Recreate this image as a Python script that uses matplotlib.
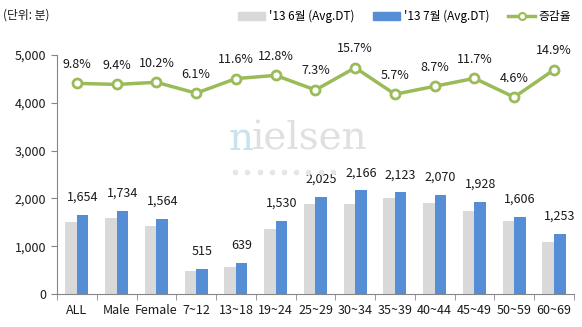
import numpy as np
import matplotlib.pyplot as plt
from matplotlib.lines import Line2D
from matplotlib.patches import Patch

plt.rcParams['font.family'] = ['Noto Sans CJK KR', 'DejaVu Sans']

##Data##
categories = ['ALL', 'Male', 'Female', '7~12', '13~18', '19~24', '25~29',
              '30~34', '35~39', '40~44', '45~49', '50~59', '60~69']
jun_dt = [1506, 1585, 1419, 485, 573, 1356, 1887, 1872, 2009, 1904, 1726, 1535, 1091]
jul_dt = [1654, 1734, 1564, 515, 639, 1530, 2025, 2166, 2123, 2070, 1928, 1606, 1253]
growth = [9.8, 9.4, 10.2, 6.1, 11.6, 12.8, 7.3, 15.7, 5.7, 8.7, 11.7, 4.6, 14.9]
yticks = [0, 1000, 2000, 3000, 4000, 5000]

grey = '#D9D9D9'
blue = '#558ED5'
green = '#9BBB59'
axis_col = '#868686'

fig = plt.figure(figsize=(5.82, 3.27), dpi=100)
ax = fig.add_axes([0.098, 0.101, 0.888, 0.731])

x = np.arange(len(categories))
w = 0.29
ax.bar(x - w / 2, jun_dt, w, color=grey, zorder=2)
ax.bar(x + w / 2, jul_dt, w, color=blue, zorder=2)
for xi, v in zip(x, jul_dt):
    ax.annotate(f'{v:,}', (xi + w / 2, v), xytext=(0, 8), textcoords='offset points',
                ha='center', va='bottom', fontsize=9, color='#1a1a1a')

##Axes styling##
ax.set_xlim(-0.5, len(categories) - 0.5)
ax.set_ylim(0, 5000)
ax.set_yticks(yticks)
ax.set_yticklabels([f'{t:,}' for t in yticks], fontsize=9, color='#1a1a1a')
ax.set_xticks(x)
ax.set_xticklabels(categories, fontsize=9, color='#1a1a1a')
ax.tick_params(axis='x', length=0, pad=7)
ax.set_xticks(np.arange(-0.5, len(categories)), minor=True)
ax.tick_params(axis='x', which='minor', length=4, color=axis_col)
ax.tick_params(axis='y', length=4, color=axis_col, pad=4)
for side in ['top', 'right']:
    ax.spines[side].set_visible(False)
for side in ['left', 'bottom']:
    ax.spines[side].set_color(axis_col)

##Growth line on hidden secondary axis##
ax2 = ax.twinx()
ax2.set_ylim(-69.5, 20.5)
ax2.axis('off')
ax2.plot(x, growth, color=green, lw=2.5, marker='o', ms=6.5, mfc='white',
         mec=green, mew=2, zorder=3)
for xi, p in zip(x, growth):
    ax2.annotate(f'{p}%', (xi, p), xytext=(0, 9), textcoords='offset points',
                 ha='center', va='bottom', fontsize=9, color='#1a1a1a')

##Watermark##
fig.text(0.393, 0.542, 'n', fontsize=28, family='DejaVu Serif', color='#C8E2EE',
         ha='left', va='baseline')
fig.text(0.433, 0.542, 'ielsen', fontsize=28, family='DejaVu Serif', color='#E0E0E0',
         ha='left', va='baseline')
dots_x = np.linspace(0.404, 0.572, 9)
fig.add_artist(Line2D(dots_x, [0.474] * 9, ls='none', marker='o', ms=3,
                      color='#E6E6E6', transform=fig.transFigure))

##Unit note and legend##
fig.text(0.005, 0.955, '(단위: 분)', fontsize=8.5, color='#1a1a1a', va='center')
handles = [Patch(color=grey, label="'13 6월 (Avg.DT)"),
           Patch(color=blue, label="'13 7월 (Avg.DT)"),
           Line2D([], [], color=green, lw=2.5, marker='o', ms=5, mfc='white',
                  mec=green, mew=1.5, label='증감율')]
fig.legend(handles=handles, loc='center right', bbox_to_anchor=(1.0, 0.95), ncol=3,
           frameon=False, fontsize=8.5, handlelength=2.3, handleheight=0.6,
           columnspacing=1.6, handletextpad=0.3)

fig.savefig('out.png', dpi=100)
